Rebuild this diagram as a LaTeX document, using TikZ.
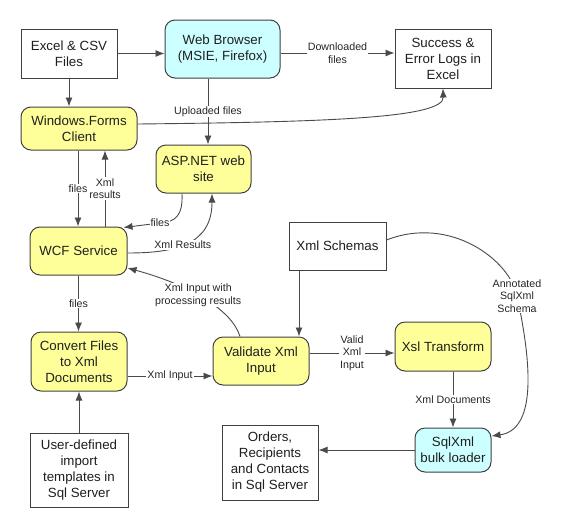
\documentclass[tikz,border=0pt]{standalone}
\usepackage{fontspec}
\setmainfont{Liberation Sans}
\usetikzlibrary{arrows.meta,calc}
\definecolor{yel}{HTML}{FFFF99}
\definecolor{cya}{HTML}{CCFFFF}
\definecolor{bord}{HTML}{404040}
\definecolor{ln}{HTML}{4A4A4A}
\begin{document}
\begin{tikzpicture}[x=1pt,y=-1pt,
 box/.style={draw=bord, line width=1pt, fill=white, align=center, font=\fontsize{13.3}{16}\selectfont, text=black!88, inner sep=0pt},
 rbox/.style={box, rounded corners=10pt},
 yl/.style={rbox, fill=yel},
 cy/.style={rbox, fill=cya},
 arr/.style={draw=ln, line width=0.9pt, -{Latex[length=9pt,width=7pt]}},
 lab/.style={fill=white, inner sep=1pt, font=\fontsize{10.67}{12.5}\selectfont, align=center, text=black!85}
]
\useasboundingbox (0,0) rectangle (564,528);
\node[box, minimum width=96pt, minimum height=49pt] (excel) at (69,53.5) {Excel \& CSV\\Files};
\node[cy, minimum width=115pt, minimum height=58pt] (web) at (222.5,49) {Web Browser\\(MSIE, Firefox)};
\node[box, minimum width=96pt, minimum height=59pt] (logs) at (443,58.5) {Success \&\\Error Logs in\\Excel};
\node[yl, minimum width=116pt, minimum height=43pt] (winforms) at (79,128.5) {Windows.Forms\\Client};
\node[yl, minimum width=95pt, minimum height=48pt] (asp) at (203.5,169) {ASP.NET web\\site};
\node[yl, minimum width=97pt, minimum height=48pt] (wcf) at (78.5,251) {WCF Service};
\node[yl, minimum width=96pt, minimum height=59pt] (convert) at (79,361.5) {Convert Files\\to Xml\\Documents};
\node[yl, minimum width=96pt, minimum height=48pt] (validate) at (261,361) {Validate Xml\\Input};
\node[box, minimum width=98pt, minimum height=74pt] (user) at (79,470) {User-defined\\import\\templates in\\Sql Server};
\node[box, minimum width=96pt, minimum height=75pt] (orders) at (270,462.5) {Orders,\\Recipients\\and Contacts\\in Sql Server};
\node[box, minimum width=97pt, minimum height=48pt] (schemas) at (337.5,246) {Xml Schemas};
\node[yl, minimum width=96pt, minimum height=49pt] (xsl) at (443,346.5) {Xsl Transform};
\node[cy, minimum width=76pt, minimum height=44pt] (sqlxml) at (453,450) {SqlXml\\bulk loader};

\draw[arr] (excel.east) -- (excel.east -| web.west);
\draw[arr] ([yshift=-4pt]web.east) -- node[lab]{Downloaded\\files} ([yshift=-4pt]web.east -| logs.west);
\draw[arr] (excel.south) -- (excel.south |- winforms.north);
\draw[arr] ([xshift=-14.5pt]web.south) -- node[lab]{Uploaded files} ([xshift=-14.5pt]web.south |- asp.north);
\draw[arr] ([yshift=4.5pt]winforms.east) .. controls (330,122) and (444,118) .. (logs.south);
\draw[arr] ([xshift=-1pt]winforms.south) -- node[lab]{files} ([xshift=-1pt]winforms.south |- wcf.north);
\draw[arr] ([xshift=26.5pt]wcf.north) -- node[lab]{Xml\\results} ([xshift=26.5pt]wcf.north |- winforms.south);
\draw[arr] ([xshift=-21.5pt]asp.south) .. controls (183,215) and (176,222) .. (160,223) node[lab]{files} -- ([xshift=-4pt,yshift=-1pt]wcf.north east);
\draw[arr] ([yshift=-2pt]wcf.east) .. controls (175,253) and (212,245) .. node[lab,pos=0.45]{Xml Results} ([xshift=8.5pt]asp.south);
\draw[arr] ([xshift=-21pt]validate.north) .. controls (232,310) and (190,285) .. node[lab,pos=0.55]{Xml Input with\\processing results} ([yshift=-17pt]wcf.east);
\draw[arr] (wcf.south) -- node[lab]{files} (wcf.south |- convert.north);
\draw[arr] (user.north) -- (user.north |- convert.south);
\draw[arr] ([yshift=-14.5pt]convert.east) -- node[lab]{Xml Input} ([yshift=-14.5pt]convert.east -| validate.west);
\draw[arr] ([xshift=-38.5pt]schemas.south) -- ([xshift=-38.5pt]schemas.south |- validate.north);
\draw[arr] ([yshift=8pt]validate.east) -- node[lab]{Valid\\Xml\\Input} ([yshift=8pt]validate.east -| xsl.west);
\draw[arr] (sqlxml.north |- xsl.south) -- node[lab]{Xml Documents} (sqlxml.north);
\draw[arr] ([yshift=6pt]schemas.east) .. controls (450,215) and (510,260) .. (517,296) node[lab]{Annotated\\SqlXml\\Schema} .. controls (533,370) and (535,430) .. ([yshift=14pt]sqlxml.east);
\draw[arr] (sqlxml.west) -- (sqlxml.west -| orders.east);
\end{tikzpicture}
\end{document}
